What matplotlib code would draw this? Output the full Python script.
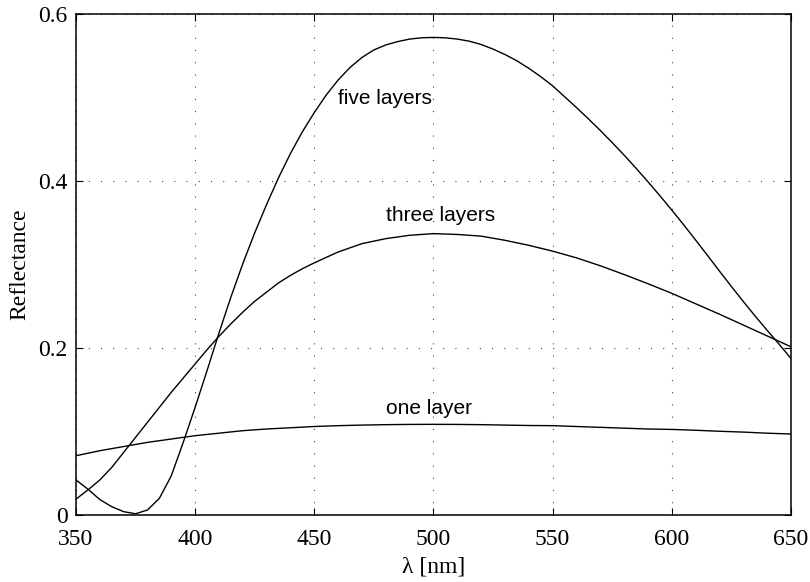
import numpy as np
import matplotlib
matplotlib.use("Agg")
import matplotlib.pyplot as plt

# values, wavelength in nm
wl1 = [350, 360, 370, 380, 390, 400, 410, 420, 430, 440, 450, 460, 470, 480, 490,
       500, 510, 520, 530, 540, 550, 560, 570, 580, 590, 600, 610, 620, 630, 640, 650]
one_layer = [0.071, 0.077, 0.082, 0.087, 0.091, 0.095, 0.098, 0.101, 0.103, 0.1045,
             0.106, 0.107, 0.1077, 0.1082, 0.1085, 0.1086, 0.1085, 0.1082, 0.1077,
             0.1072, 0.107, 0.106, 0.105, 0.104, 0.103, 0.1025, 0.1015, 0.1003,
             0.0993, 0.098, 0.097]

wl3 = [350, 355, 360, 365, 370, 375, 380, 385, 390, 395, 400, 405, 410, 415, 420,
       425, 430, 435, 440, 445, 450, 460, 470, 480, 490, 500, 510, 520, 530, 540,
       550, 560, 570, 580, 590, 600, 610, 620, 630, 640, 650]
three_layers = [0.019, 0.030, 0.042, 0.057, 0.075, 0.093, 0.111, 0.129, 0.147, 0.164,
                0.181, 0.198, 0.214, 0.229, 0.243, 0.256, 0.267, 0.278, 0.287, 0.295,
                0.302, 0.315, 0.325, 0.331, 0.335, 0.337, 0.336, 0.334, 0.329, 0.323,
                0.316, 0.308, 0.2985, 0.288, 0.277, 0.2655, 0.253, 0.2405, 0.2275,
                0.2145, 0.2015]

wl5 = [350, 355, 360, 365, 370, 375, 380, 385, 390, 395, 400, 405, 410, 415, 420,
       425, 430, 435, 440, 445, 450, 455, 460, 465, 470, 475, 480, 485, 490, 495,
       500, 505, 510, 515, 520, 525, 530, 535, 540, 545, 550, 555, 560, 565, 570,
       575, 580, 585, 590, 595, 600, 605, 610, 615, 620, 625, 630, 635, 640, 645, 650]
five_layers = [0.042, 0.031, 0.0185, 0.010, 0.004, 0.0015, 0.006, 0.020, 0.047, 0.087,
               0.129, 0.173, 0.218, 0.261, 0.301, 0.338, 0.372, 0.404, 0.433, 0.459,
               0.482, 0.503, 0.521, 0.536, 0.548, 0.557, 0.563, 0.567, 0.570, 0.5715,
               0.572, 0.5715, 0.570, 0.5675, 0.5635, 0.558, 0.5515, 0.544, 0.535, 0.525,
               0.514, 0.501, 0.488, 0.4745, 0.4605, 0.446, 0.431, 0.4153, 0.3991, 0.3824,
               0.3652, 0.3475, 0.3293, 0.3108, 0.2921, 0.2737, 0.2557, 0.2382, 0.2212,
               0.2047, 0.1875]

labels = ["one layer", "three layers", "five layers"]
label_pos = [(480, 0.128), (480, 0.359), (460, 0.499)]

serif = ["Liberation Serif", "DejaVu Serif"]
sans = ["Liberation Sans", "DejaVu Sans"]

fig = plt.figure(figsize=(8.10, 5.82), dpi=100)
ax = fig.add_axes([0.0938, 0.1151, 0.8827, 0.8608])

for x, y in [(wl1, one_layer), (wl3, three_layers), (wl5, five_layers)]:
    ax.plot(x, y, color="black", linewidth=1.0)

for txt, (x, y) in zip(labels, label_pos):
    ax.text(x, y, txt, family=sans, fontsize=15, ha="left", va="center")

ax.set_xlim(350, 650)
ax.set_ylim(0, 0.6)
ax.set_xticks([350, 400, 450, 500, 550, 600, 650])
ax.set_yticks([0, 0.2, 0.4, 0.6])
ax.set_yticklabels(["0", "0.2", "0.4", "0.6"])

ax.grid(True, color="#444444", linestyle=(0, (1, 10)), linewidth=0.8)
ax.tick_params(direction="in", length=5, width=0.8, top=True, right=True,
               labelsize=17)
ax.tick_params(axis="x", pad=10)
ax.tick_params(axis="y", pad=6)
for lab in ax.get_xticklabels() + ax.get_yticklabels():
    lab.set_family(serif)
for sp in ax.spines.values():
    sp.set_linewidth(1.1)

ax.set_xlabel("λ [nm]", family=serif, fontsize=17, labelpad=5)
ax.set_ylabel("Reflectance", family=serif, fontsize=17, labelpad=5.5)

fig.savefig("out.png", dpi=100)
